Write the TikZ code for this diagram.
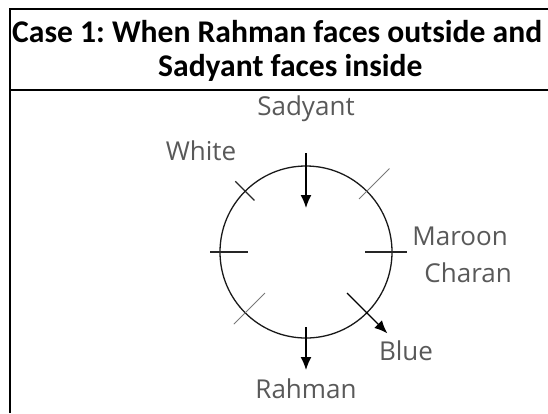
\documentclass[tikz,border=0pt]{standalone}
\usepackage{fontspec}
\setmainfont{Carlito}
\newfontfamily\lblfont{Open Sans}
\usetikzlibrary{positioning}
\usetikzlibrary{calc}
\usetikzlibrary{arrows.meta}
\definecolor{lblgray}{RGB}{89,89,89}
\definecolor{tickgray}{RGB}{120,120,120}
\frenchspacing

\begin{document}
\begin{tikzpicture}[x=1pt,y=-1pt,
        title/.style = {font=\fontsize{31.6}{34}\selectfont\bfseries,inner sep=0pt},
        lbl/.style = {font=\lblfont\fontsize{26}{30}\selectfont,text=lblgray,inner sep=0pt},
        rule/.style = {line width=2pt,black},
        ring/.style = {circle,draw=black!90,line width=1.3pt,minimum size=172pt,inner sep=0pt},
        tick/.style = {line width=1.1pt,black!85},
        faint/.style = {line width=1pt,tickgray},
        face/.style = {line width=1.4pt,black,-{Latex[length=13pt,width=11pt]}}]
        \useasboundingbox (0,0) rectangle (548,413);
        % table
        \draw[rule] (10,413) -- (10,9) -- (548,9);
        \draw[rule] (9,89.5) -- (548,89.5);
        \node[title,anchor=base west] (head1) at (12,42) {Case 1: When Rahman faces outside and};
        \node[title,anchor=base west] (head2) at (158,76) {Sadyant faces inside};
        % circle
        \node[ring] (c) at (306,252) {};
        \coordinate (n1) at ($(c.center)+(90:99pt)$);
        \coordinate (n2) at ($(c.center)+(90:44pt)$);
        \coordinate (nw1) at ($(c.center)+(135:100pt)$);
        \coordinate (nw2) at ($(c.center)+(135:73pt)$);
        \coordinate (ne1) at ($(c.center)+(45:118pt)$);
        \coordinate (ne2) at ($(c.center)+(45:75pt)$);
        \coordinate (w1) at ($(c.center)+(180:96pt)$);
        \coordinate (w2) at ($(c.center)+(180:58pt)$);
        \coordinate (e1) at ($(c.center)+(0:59pt)$);
        \coordinate (e2) at ($(c.center)+(0:101pt)$);
        \coordinate (sw1) at ($(c.center)+(225:58pt)$);
        \coordinate (sw2) at ($(c.center)+(225:102pt)$);
        \coordinate (se1) at ($(c.center)+(315:58pt)$);
        \coordinate (se2) at ($(c.center)+(315:115pt)$);
        \coordinate (s1) at ($(c.center)+(270:75pt)$);
        \coordinate (s2) at ($(c.center)+(270:118pt)$);
        \draw[face] (n1) -- (n2);
        \draw[tick] (nw1) -- (nw2);
        \draw[faint] (ne1) -- (ne2);
        \draw[tick] (w1) -- (w2);
        \draw[tick] (e1) -- (e2);
        \draw[faint] (sw1) -- (sw2);
        \draw[face] (se1) -- (se2);
        \draw[face] (s1) -- (s2);
        % names
        \node[lbl,anchor=base] (sadyant) at (306,115) {Sadyant};
        \node[lbl,anchor=base] (white) at (201,160) {White};
        \node[lbl,anchor=base east] (maroon) at (508,245) {Maroon};
        \node[lbl,anchor=base east] (charan) at (512,282) {Charan};
        \node[lbl,anchor=base] (blue) at (406,360) {Blue};
        \node[lbl,anchor=base] (rahman) at (306,398) {Rahman};
    \end{tikzpicture}
\end{document}
